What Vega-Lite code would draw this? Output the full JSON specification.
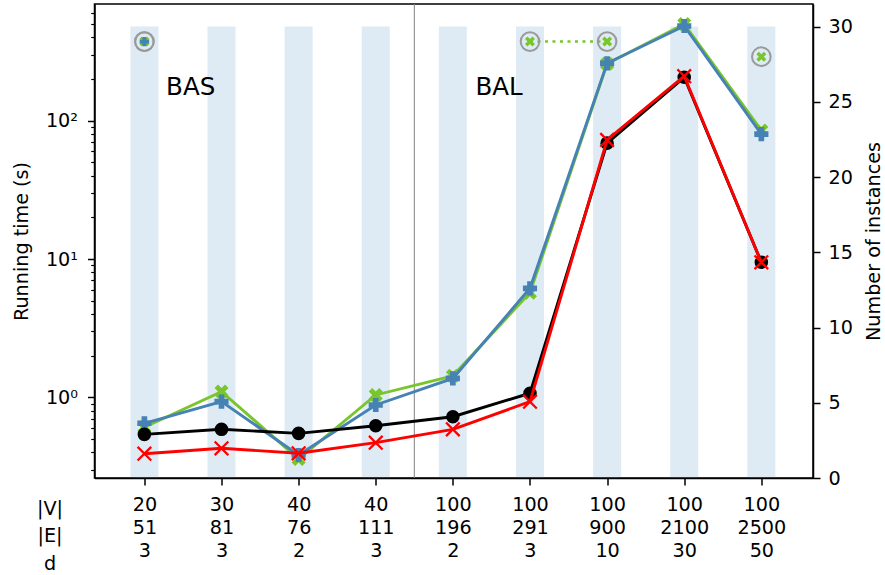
{
  "$schema": "https://vega.github.io/schema/vega-lite/v6.json",
  "width": 718.5,
  "height": 474,
  "autosize": {"type": "none"},
  "padding": {"left": 94.5, "top": 4, "right": 72, "bottom": 97},
  "background": "white",
  "config": {
    "font": "DejaVu Sans",
    "view": {"stroke": "black", "strokeWidth": 1.5},
    "axis": {
      "grid": false,
      "domainColor": "black",
      "domainWidth": 1.5,
      "tickColor": "black",
      "tickWidth": 1.5,
      "tickSize": 7,
      "labelFont": "DejaVu Sans",
      "labelFontSize": 19.2,
      "labelColor": "black",
      "titleFont": "DejaVu Sans",
      "titleFontSize": 19.2,
      "titleFontWeight": "normal",
      "titleColor": "black",
      "labelFlush": false,
      "labelOverlap": false,
      "labelBound": false
    }
  },
  "datasets": {
    "bars": [
      {"i": 0, "n": 30}, {"i": 1, "n": 30}, {"i": 2, "n": 30}, {"i": 3, "n": 30}, {"i": 4, "n": 30},
      {"i": 5, "n": 30}, {"i": 6, "n": 30}, {"i": 7, "n": 30}, {"i": 8, "n": 30}
    ],
    "times": [
      {"s": "green", "i": 0, "t": 0.607}, {"s": "green", "i": 1, "t": 1.10}, {"s": "green", "i": 2, "t": 0.358},
      {"s": "green", "i": 3, "t": 1.04}, {"s": "green", "i": 4, "t": 1.43}, {"s": "green", "i": 5, "t": 5.7},
      {"s": "green", "i": 6, "t": 258}, {"s": "green", "i": 7, "t": 500}, {"s": "green", "i": 8, "t": 85},
      {"s": "blue", "i": 0, "t": 0.649}, {"s": "blue", "i": 1, "t": 0.93}, {"s": "blue", "i": 2, "t": 0.383},
      {"s": "blue", "i": 3, "t": 0.88}, {"s": "blue", "i": 4, "t": 1.37}, {"s": "blue", "i": 5, "t": 6.14},
      {"s": "blue", "i": 6, "t": 260}, {"s": "blue", "i": 7, "t": 484}, {"s": "blue", "i": 8, "t": 80},
      {"s": "black", "i": 0, "t": 0.54}, {"s": "black", "i": 1, "t": 0.587}, {"s": "black", "i": 2, "t": 0.549},
      {"s": "black", "i": 3, "t": 0.623}, {"s": "black", "i": 4, "t": 0.724}, {"s": "black", "i": 5, "t": 1.07},
      {"s": "black", "i": 6, "t": 68.8}, {"s": "black", "i": 7, "t": 206}, {"s": "black", "i": 8, "t": 9.47},
      {"s": "red", "i": 0, "t": 0.391}, {"s": "red", "i": 1, "t": 0.428}, {"s": "red", "i": 2, "t": 0.394},
      {"s": "red", "i": 3, "t": 0.47}, {"s": "red", "i": 4, "t": 0.587}, {"s": "red", "i": 5, "t": 0.93},
      {"s": "red", "i": 6, "t": 72.6}, {"s": "red", "i": 7, "t": 210}, {"s": "red", "i": 8, "t": 9.47}
    ],
    "inst": [
      {"s": "green", "i": 0, "n": 29}, {"s": "green", "i": 5, "n": 29}, {"s": "green", "i": 6, "n": 29},
      {"s": "green", "i": 8, "n": 28}, {"s": "blue", "i": 0, "n": 29}
    ],
    "notes": [{"i": 0.6, "y": 25.9, "label": "BAS"}, {"i": 4.6, "y": 25.9, "label": "BAL"}],
    "sep": [{"i": 3.5}]
  },
  "encoding": {
    "x": {
      "field": "i", "type": "quantitative",
      "scale": {"domain": [-0.582, 8.605], "nice": false, "zero": false},
      "axis": {
        "values": [0, 1, 2, 3, 4, 5, 6, 7, 8],
        "labelExpr": "[['20','51','3'],['30','81','3'],['40','76','2'],['40','111','3'],['100','196','2'],['100','291','3'],['100','900','10'],['100','2100','30'],['100','2500','50']][round(datum.value)]",
        "labelBaseline": "top",
        "labelLineHeight": 23.3,
        "labelPadding": 10,
        "title": ["|V|", "|E|", "d"],
        "titleAngle": 0,
        "titleAlign": "center",
        "titleBaseline": "alphabetic",
        "titleX": -45,
        "titleY": 36,
        "titleLineHeight": 27.5
      }
    }
  },
  "layer": [
    {
      "data": {"name": "bars"},
      "mark": {"type": "bar", "size": 28, "color": "#1f77b4", "opacity": 0.15},
      "encoding": {
        "y": {
          "field": "n", "type": "quantitative",
          "scale": {"domain": [0, 31.5], "nice": false, "zero": true},
          "axis": {
            "orient": "right",
            "values": [0, 5, 10, 15, 20, 25, 30],
            "title": "Number of instances",
            "titleAngle": 270,
            "titleBaseline": "top",
            "labelPadding": 8,
            "titlePadding": 12
          }
        }
      }
    },
    {
      "data": {"name": "sep"},
      "mark": {"type": "rule", "color": "#808080", "strokeWidth": 1},
      "encoding": {}
    },
    {
      "data": {"name": "notes"},
      "mark": {"type": "text", "fontSize": 24.5, "font": "DejaVu Sans", "color": "black", "baseline": "middle", "align": "center"},
      "encoding": {
        "y": {"field": "y", "type": "quantitative", "scale": {"domain": [0, 31.5], "nice": false, "zero": true}, "axis": null},
        "text": {"field": "label"}
      }
    },
    {
      "data": {"name": "times"},
      "transform": [{"filter": "datum.s == 'green'"}],
      "mark": {
        "type": "line", "color": "#78c52c", "strokeWidth": 2.9,
        "point": {"shape": "M-1,-0.5L-0.5,-1L0,-0.5L0.5,-1L1,-0.5L0.5,0L1,0.5L0.5,1L0,0.5L-0.5,1L-1,0.5L-0.5,0Z", "filled": true, "size": 196, "color": "#78c52c"}
      },
      "encoding": {
        "y": {
          "field": "t", "type": "quantitative",
          "scale": {"type": "log", "domain": [0.261, 698], "nice": false},
          "axis": {
            "orient": "left",
            "title": "Running time (s)",
            "values": [0.3, 0.4, 0.5, 0.6, 0.7, 0.8, 0.9, 1, 2, 3, 4, 5, 6, 7, 8, 9, 10, 20, 30, 40, 50, 60, 70, 80, 90, 100, 200, 300, 400, 500, 600],
            "labelExpr": "datum.value == 1 ? '10⁰' : datum.value == 10 ? '10¹' : datum.value == 100 ? '10²' : ''",
            "tickSize": {"condition": {"test": "datum.value == 1 || datum.value == 10 || datum.value == 100", "value": 7}, "value": 3.8},
            "tickWidth": {"condition": {"test": "datum.value == 1 || datum.value == 10 || datum.value == 100", "value": 1.5}, "value": 1.15},
            "labelPadding": 10,
            "titlePadding": 14
          }
        }
      }
    },
    {
      "data": {"name": "times"},
      "transform": [{"filter": "datum.s == 'blue'"}],
      "mark": {
        "type": "line", "color": "#4682b4", "strokeWidth": 2.9,
        "point": {"shape": "cross", "filled": true, "size": 200, "color": "#4682b4"}
      },
      "encoding": {
        "y": {"field": "t", "type": "quantitative", "scale": {"type": "log", "domain": [0.261, 698], "nice": false}, "axis": null}
      }
    },
    {
      "data": {"name": "times"},
      "transform": [{"filter": "datum.s == 'black'"}],
      "mark": {
        "type": "line", "color": "black", "strokeWidth": 2.9,
        "point": {"shape": "circle", "filled": true, "size": 185, "color": "black"}
      },
      "encoding": {
        "y": {"field": "t", "type": "quantitative", "scale": {"type": "log", "domain": [0.261, 698], "nice": false}, "axis": null}
      }
    },
    {
      "data": {"name": "times"},
      "transform": [{"filter": "datum.s == 'red'"}],
      "mark": {
        "type": "line", "color": "#ff0000", "strokeWidth": 2.9,
        "point": {"shape": "M-1,-1L1,1M-1,1L1,-1", "filled": false, "strokeWidth": 2.3, "size": 185, "color": "#ff0000"}
      },
      "encoding": {
        "y": {"field": "t", "type": "quantitative", "scale": {"type": "log", "domain": [0.261, 698], "nice": false}, "axis": null}
      }
    },
    {
      "data": {"name": "inst"},
      "transform": [{"filter": "datum.s == 'green' && datum.i >= 5 && datum.i <= 6"}],
      "mark": {"type": "line", "color": "#78c52c", "strokeWidth": 2.5, "strokeDash": [3, 4.5]},
      "encoding": {
        "y": {"field": "n", "type": "quantitative", "scale": {"domain": [0, 31.5], "nice": false, "zero": true}, "axis": null}
      }
    },
    {
      "data": {"name": "inst"},
      "mark": {"type": "point", "shape": "circle", "filled": false, "color": "#9a9a9a", "strokeWidth": 2, "size": 346, "opacity": 1},
      "encoding": {
        "y": {"field": "n", "type": "quantitative", "scale": {"domain": [0, 31.5], "nice": false, "zero": true}, "axis": null}
      }
    },
    {
      "data": {"name": "inst"},
      "transform": [{"filter": "datum.s == 'green'"}],
      "mark": {"type": "point", "shape": "M-1,-0.5L-0.5,-1L0,-0.5L0.5,-1L1,-0.5L0.5,0L1,0.5L0.5,1L0,0.5L-0.5,1L-1,0.5L-0.5,0Z", "filled": true, "color": "#78c52c", "size": 100, "opacity": 1},
      "encoding": {
        "y": {"field": "n", "type": "quantitative", "scale": {"domain": [0, 31.5], "nice": false, "zero": true}, "axis": null}
      }
    },
    {
      "data": {"name": "inst"},
      "transform": [{"filter": "datum.s == 'blue'"}],
      "mark": {"type": "point", "shape": "cross", "filled": true, "color": "#4682b4", "size": 90, "opacity": 1},
      "encoding": {
        "y": {"field": "n", "type": "quantitative", "scale": {"domain": [0, 31.5], "nice": false, "zero": true}, "axis": null}
      }
    }
  ],
  "resolve": {"scale": {"y": "independent"}, "axis": {"y": "independent"}}
}
